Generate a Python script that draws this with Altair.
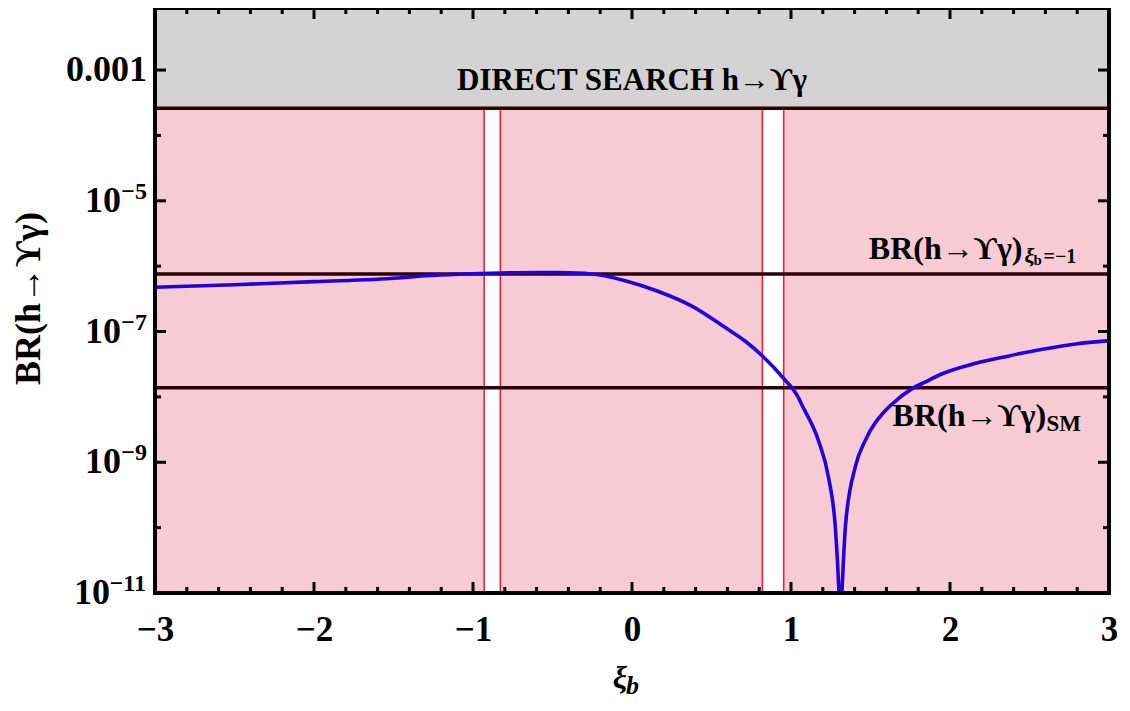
import altair as alt
import pandas as pd

# ---------------- data ----------------
xi_vals = [-3.0, -2.5, -2.0, -1.47, -1.344, -0.891, -0.6, -0.463, -0.253, -0.043,
           0.167, 0.377, 0.587, 0.713, 0.817, 0.943, 1.048, 1.069, 1.174, 1.237,
           1.28, 1.301, 1.31, 1.321, 1.343, 1.406, 1.469, 1.594, 1.636,
           1.762, 1.846, 1.951, 2.161, 2.371, 2.581, 2.791, 3.0]
br_vals = [4.75e-7, 5.2e-7, 5.8e-7, 6.6e-7, 7.0e-7, 7.8e-7, 8.0e-7, 7.96e-7, 7.6e-7, 6.0e-7,
           4.1e-7, 2.45e-7, 1.15e-7, 7.1e-8, 4.3e-8, 2.05e-8, 9.6e-9, 7.5e-9, 2.1e-9, 5.7e-10,
           9.3e-11, 1.12e-11, 3e-12, 1.12e-11, 1.1e-10, 8.8e-10, 2.2e-9, 6.2e-9, 7.8e-9,
           1.34e-8, 1.7e-8, 2.26e-8, 3.27e-8, 4.24e-8, 5.36e-8, 6.46e-8, 7.26e-8]

direct_limit = 2.6e-4          # direct search bound
br_xi_minus1 = 7.6e-7          # BR at xi_b = -1
br_sm = 1.38e-8                # SM BR
stripe_lo = [-0.93, 0.82]      # allowed (white) xi_b windows
stripe_hi = [-0.828, 0.954]

x_domain = [-3, 3]
y_domain = [1e-11, 8.9e-3]

x_major = [-3, -2, -1, 0, 1, 2, 3]
x_minor = [-2.8, -2.6, -2.4, -2.2, -1.8, -1.6, -1.4, -1.2, -0.8, -0.6, -0.4, -0.2,
           0.2, 0.4, 0.6, 0.8, 1.2, 1.4, 1.6, 1.8, 2.2, 2.4, 2.6, 2.8]
y_major = [1e-11, 1e-9, 1e-7, 1e-5, 1e-3]
y_minor = [1e-10, 1e-8, 1e-6, 1e-4]
# y tick labels: "10" with a superscript exponent, plus a plain "0.001"
y_pow_short = [1e-9, 1e-7, 1e-5]
y_exp_short = ["−9", "−7", "−5"]
y_pow_long = [1e-11]
y_exp_long = ["−11"]
y_plain_val = [1e-3]
y_plain_lab = ["0.001"]

# ---------------- style ----------------
W, H = 954, 585
FONT = "Liberation Serif"
PINK = "#f6cbd4"
GRAY = "#d3d3d3"
RED = "#e6233f"
DARK = "#2d0008"
BLUE = "#2400dd"

xs = alt.Scale(domain=x_domain, nice=False, zero=False)
ys = alt.Scale(type="log", domain=y_domain, nice=False)

x_axis = alt.Axis(values=x_major, format="d", ticks=False, domain=False, grid=False,
                  labelFont=FONT, labelFontSize=35, labelFontWeight="bold", labelColor="black",
                  labelPadding=19, labelFlush=False, labelOverlap=False, title=None)
y_axis = alt.Axis(values=y_major, labels=False, ticks=False, domain=False, grid=False,
                  title="BR(h→ϒγ)", titleFont=FONT, titleFontSize=36, titleFontWeight="bold",
                  titleColor="black", titleX=-127, titleY=290, titleAlign="center",
                  titleBaseline="middle", titleAngle=270)


def X(field):
    return alt.X(field, scale=xs, axis=x_axis)


def Y(field):
    return alt.Y(field, scale=ys, axis=y_axis)


# ---------------- layers ----------------
pink = alt.Chart(pd.DataFrame({"x0": [x_domain[0]], "x1": [x_domain[1]],
                               "y0": [y_domain[0]], "y1": [direct_limit]})).mark_rect(
    color=PINK).encode(x=X("x0:Q"), x2="x1:Q", y=Y("y0:Q"), y2="y1:Q")

gray = alt.Chart(pd.DataFrame({"x0": [x_domain[0]], "x1": [x_domain[1]],
                               "y0": [direct_limit], "y1": [y_domain[1]]})).mark_rect(
    color=GRAY).encode(x=X("x0:Q"), x2="x1:Q", y=Y("y0:Q"), y2="y1:Q")

stripes_df = pd.DataFrame({"x0": stripe_lo, "x1": stripe_hi,
                           "y0": [y_domain[0]] * 2, "y1": [direct_limit] * 2})
white = alt.Chart(stripes_df).mark_rect(color="white").encode(
    x=X("x0:Q"), x2="x1:Q", y=Y("y0:Q"), y2="y1:Q")

edges_df = pd.DataFrame({"x": stripe_lo + stripe_hi, "y0": [y_domain[0]] * 4,
                         "y1": [direct_limit] * 4})
red_lines = alt.Chart(edges_df).mark_rule(color=RED, strokeWidth=1.6).encode(
    x=X("x:Q"), y=Y("y0:Q"), y2="y1:Q")

hlines_df = pd.DataFrame({"y": [direct_limit, br_xi_minus1, br_sm]})
hlines = alt.Chart(hlines_df).mark_rule(color=DARK, strokeWidth=3.5).encode(y=Y("y:Q"))

curve_df = pd.DataFrame({"xi": xi_vals, "br": br_vals})
curve = alt.Chart(curve_df).mark_line(color=BLUE, strokeWidth=3.6, clip=True,
                                      interpolate="monotone").encode(
    x=X("xi:Q"), y=Y("br:Q"))


# ---------------- y tick labels (text marks so exponents are real superscripts) ----------------
def ylab(vals, labels, size, xpos, dy=0):
    d = pd.DataFrame({"v": vals, "lab": labels})
    return alt.Chart(d).mark_text(font=FONT, fontSize=size, fontWeight="bold", color="black",
                                  align="right", baseline="middle", dy=dy).encode(
        y=Y("v:Q"), x=alt.value(xpos), text="lab:N")


ylabels = [
    ylab(y_plain_val, y_plain_lab, 36, -8),
    ylab(y_pow_short, ["10"] * len(y_pow_short), 36, -34),
    ylab(y_pow_long, ["10"] * len(y_pow_long), 36, -45),
    ylab(y_pow_short, y_exp_short, 24, -8, dy=-9),
    ylab(y_pow_long, y_exp_long, 24, -9, dy=-9),
]


# ---------------- annotations ----------------
def txt(x, y, s, size, dx=0, dy=0, align="left", style="normal"):
    return alt.Chart(pd.DataFrame({"x": [x], "y": [y]})).mark_text(
        text=s, font=FONT, fontSize=size, fontWeight="bold", fontStyle=style,
        color="black", align=align, baseline="alphabetic", dx=dx, dy=dy).encode(
        x=X("x:Q"), y=Y("y:Q"))


ann = [
    txt(0.0, direct_limit, "DIRECT SEARCH h→ϒγ", 31, dy=-18, align="center"),
    txt(2.456, br_xi_minus1, "BR(h→ϒγ)", 32, dy=-15, align="right"),
    txt(2.469, br_xi_minus1, "ξ", 22, dy=-11, style="italic"),
    txt(2.469, br_xi_minus1, "b", 15, dx=9, dy=-9),
    txt(2.469, br_xi_minus1, "=−1", 20, dx=19, dy=-11),
    txt(2.605, br_sm, "BR(h→ϒγ)", 32, dy=38, align="right"),
    txt(2.607, br_sm, "SM", 23, dy=43),
]

one = pd.DataFrame({"a": [0]})
x_title = [
    alt.Chart(one).mark_text(text="ξ", font=FONT, fontSize=32, fontWeight="bold",
                             fontStyle="italic", align="right", baseline="alphabetic",
                             color="black").encode(x=alt.value(472), y=alt.value(680)),
    alt.Chart(one).mark_text(text="b", font=FONT, fontSize=26, fontWeight="bold",
                             fontStyle="italic", align="left", baseline="alphabetic",
                             color="black").encode(x=alt.value(471), y=alt.value(686)),
]


# ---------------- ticks (inward, on all four sides) ----------------
def xticks(vals, length):
    d = pd.DataFrame({"v": vals})
    bot = alt.Chart(d).mark_rule(color="black", strokeWidth=3).encode(
        x=X("v:Q"), y=alt.value(H), y2=alt.value(H - length))
    top = alt.Chart(d).mark_rule(color="black", strokeWidth=3).encode(
        x=X("v:Q"), y=alt.value(0), y2=alt.value(length))
    return [bot, top]


def yticks(vals, length):
    d = pd.DataFrame({"v": vals})
    left = alt.Chart(d).mark_rule(color="black", strokeWidth=3).encode(
        y=Y("v:Q"), x=alt.value(0), x2=alt.value(length))
    right = alt.Chart(d).mark_rule(color="black", strokeWidth=3).encode(
        y=Y("v:Q"), x=alt.value(W - length), x2=alt.value(W))
    return [left, right]


ticks = xticks(x_major, 11) + xticks(x_minor, 6) + yticks(y_major, 11) + yticks(y_minor, 6)

frame = alt.Chart(one).mark_rect(fillOpacity=0, stroke="black", strokeWidth=4).encode(
    x=alt.value(0), x2=alt.value(W), y=alt.value(0), y2=alt.value(H))

chart = alt.layer(pink, gray, white, red_lines, hlines, curve, *ylabels, *ann, *x_title,
                  *ticks, frame).properties(
    width=W, height=H, autosize="none",
    padding={"left": 147, "top": 0, "right": 8, "bottom": 106},
).configure_view(stroke=None).configure(background="white")

chart.save("out.html", embed_options={"renderer": "svg", "actions": False})
